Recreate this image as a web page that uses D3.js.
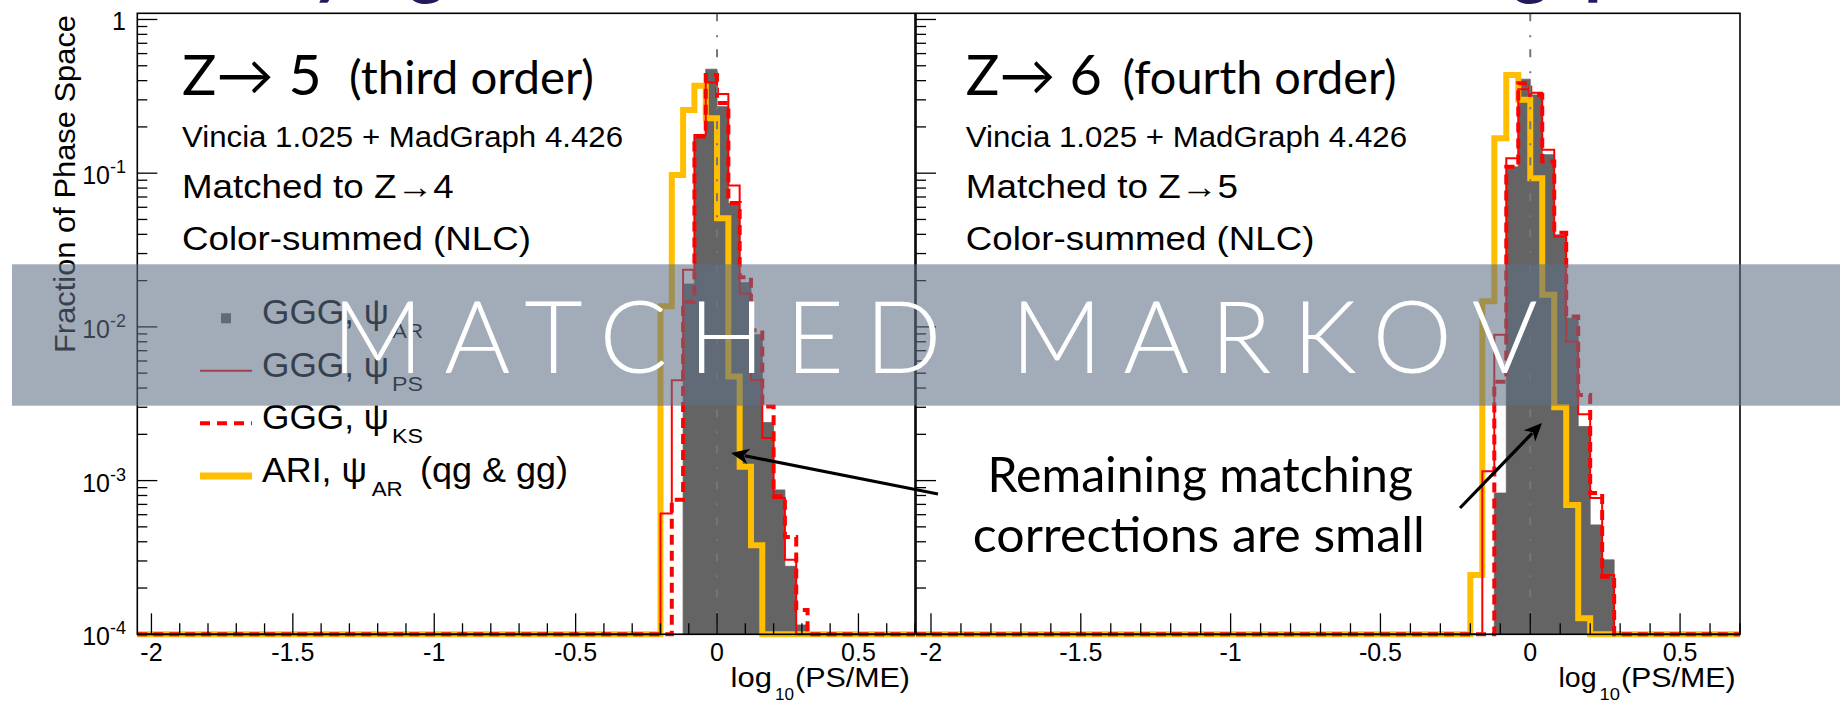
<!DOCTYPE html>
<html>
<head>
<meta charset="utf-8">
<script src="https://cdn.jsdelivr.net/npm/d3@7"></script>
<style>
  html, body { margin: 0; padding: 0; background: #fff; }
  svg { display: block; }
</style>
</head>
<body>
<svg id="chart" width="1840" height="705"></svg>
<script>
// ---- histogram binning: log10(PS/ME), bin width 0.04 ----
const binEdges = [-0.24, -0.20, -0.16, -0.12, -0.08, -0.04, 0.00, 0.04, 0.08, 0.12, 0.16, 0.20, 0.24, 0.28, 0.32, 0.36];

// Z -> 5 (third order): fraction of phase space per bin
const z5_GGG_AR = [0, 0, 0, 0.019, 0.173, 0.475, 0.271, 0.0638, 0.0194, 0.0089, 0.00239, 0.00087, 0.000277, 0.000115, 0];
const z5_GGG_PS = [0, 0.00061, 0.00449, 0.0235, 0.177, 0.389, 0.327, 0.083, 0.0165, 0.00452, 0.00189, 0.00077, 0.000305, 0, 0];
const z5_GGG_KS = [0, 0, 0.00075, 0.0146, 0.173, 0.436, 0.286, 0.064, 0.021, 0.0095, 0.00303, 0.00079, 0.00043, 0.000144, 0];
const z5_ARI_AR = [0, 0.0136, 0.0975, 0.258, 0.37, 0.228, 0.051, 0.00475, 0.00123, 0.00038, 0, 0, 0, 0, 0];

// Z -> 6 (fourth order)
const z6_GGG_AR = [0, 0, 0, 0.00083, 0.11, 0.409, 0.323, 0.132, 0.0397, 0.0114, 0.00225, 0.000515, 0.000305, 0, 0];
const z6_GGG_PS = [0, 0, 0.00115, 0.0089, 0.125, 0.352, 0.334, 0.142, 0.0387, 0.0080, 0.0027, 0.00077, 0.000243, 0, 0];
const z6_GGG_KS = [0, 0, 0, 0.0044, 0.11, 0.385, 0.323, 0.119, 0.041, 0.0117, 0.0036, 0.00083, 0.000237, 0, 0];
const z6_ARI_AR = [0, 0.000243, 0.0147, 0.169, 0.436, 0.30, 0.0927, 0.0162, 0.0030, 0.000695, 0.000127, 0, 0, 0, 0];

// axis ticks and labels
const xTickValues = [-2, -1.5, -1, -0.5, 0, 0.5];
const xTickLabels = ["-2", "-1.5", "-1", "-0.5", "0", "0.5"];
const yTickValues = [1e-4, 1e-3, 1e-2, 1e-1, 1];
const yTickBase = ["10", "10", "10", "10", "1"];
const yTickExp = ["-4", "-3", "-2", "-1", ""];

// legend entries
const legendNames = ["GGG, \u03C8", "GGG, \u03C8", "GGG, \u03C8", "ARI, \u03C8"];
const legendSubs = ["AR", "PS", "KS", "AR"];

// panel captions
const panelTitles = [["Z\u2192 5", "(third order)"], ["Z\u2192 6", "(fourth order)"]];
const panelInfo = [
  ["Vincia 1.025 + MadGraph 4.426", "Matched to Z\u21924", "Color-summed (NLC)"],
  ["Vincia 1.025 + MadGraph 4.426", "Matched to Z\u21925", "Color-summed (NLC)"]
];

// ---- layout & style ----
const ROOTFONT = "'Liberation Sans', Arial, Helvetica, sans-serif";
const SLIDEFONT = "Lato, 'Open Sans', 'DejaVu Sans', sans-serif";
const GRAY = "#646464", RED = "#ff0000", ORANGE = "#ffbf00";
const yTop = 13.3, yBottom = 634.3;
const xDomain = [-2.05, 0.7];

const svg = d3.select("#chart");
const y = d3.scaleLog().domain([1e-4, 1.097]).range([yBottom, yTop]);
const yv = v => (v > 1e-4 ? y(v) : y(1e-4));

function histPoints(vals) {
  const pts = [[xDomain[0], 0], [binEdges[0], 0]];
  vals.forEach((v, i) => { pts.push([binEdges[i], v]); pts.push([binEdges[i + 1], v]); });
  pts.push([binEdges[binEdges.length - 1], 0]);
  pts.push([xDomain[1], 0]);
  return pts;
}

const panels = [
  { left: 137.3, right: 915, series: [z5_GGG_AR, z5_GGG_PS, z5_GGG_KS, z5_ARI_AR], yLabels: true,
    textX: 182, titleW: [139.6, 245], titleX2: 349, infoW: [441, 271.6, 349],
    xTitle: { log: 730.6, sub: 775, par: 795, end: 910 } },
  { left: 916, right: 1740, series: [z6_GGG_AR, z6_GGG_PS, z6_GGG_KS, z6_ARI_AR], yLabels: false,
    textX: 965.8, titleW: [136.2, 274], titleX2: 1122.5, infoW: [441.2, 272.2, 348.6],
    xTitle: { log: 1558.5, sub: 1599.6, par: 1621, end: 1735.7 } }
];

panels.forEach((p, pi) => {
  const x = d3.scaleLinear().domain(xDomain).range([p.left, p.right]);
  const g = svg.append("g");

  g.append("rect").attr("x", p.left).attr("y", yTop)
    .attr("width", p.right - p.left).attr("height", yBottom - yTop).attr("fill", "#fff");

  const [ar, ps, ks, ari] = p.series;

  // filled histogram (GGG, psi_AR)
  const area = d3.area().x(d => x(d[0])).y0(yBottom).y1(d => yv(d[1]));
  const arPts = [];
  ar.forEach((v, i) => { arPts.push([binEdges[i], v]); arPts.push([binEdges[i + 1], v]); });
  g.append("path").attr("d", area(arPts)).attr("fill", GRAY).attr("stroke", GRAY).attr("stroke-width", 0.8);

  const line = d3.line().x(d => x(d[0])).y(d => yv(d[1]));
  g.append("path").attr("d", line(histPoints(ari))).attr("fill", "none")
    .attr("stroke", ORANGE).attr("stroke-width", 6).attr("stroke-linejoin", "miter");
  g.append("path").attr("d", line(histPoints(ps))).attr("fill", "none")
    .attr("stroke", RED).attr("stroke-width", 2);
  g.append("path").attr("d", line(histPoints(ks))).attr("fill", "none")
    .attr("stroke", RED).attr("stroke-width", 4).attr("stroke-dasharray", "10,6");

  // reference line at log10(PS/ME) = 0
  g.append("line").attr("x1", x(0)).attr("x2", x(0)).attr("y1", yTop).attr("y2", yBottom)
    .attr("stroke", "#767676").attr("stroke-width", 2).attr("stroke-dasharray", "8,14,2,12");

  // frame
  g.append("rect").attr("x", p.left).attr("y", yTop)
    .attr("width", p.right - p.left).attr("height", yBottom - yTop)
    .attr("fill", "none").attr("stroke", "#000").attr("stroke-width", 1.6);

  // x ticks
  const xMinor = d3.range(-20, 8).map(k => k / 10).filter(v => !xTickValues.some(t => Math.abs(t - v) < 1e-9));
  xTickValues.forEach(v => g.append("line").attr("x1", x(v)).attr("x2", x(v))
    .attr("y1", yBottom).attr("y2", yBottom - 21).attr("stroke", "#000").attr("stroke-width", 1.3));
  xMinor.forEach(v => g.append("line").attr("x1", x(v)).attr("x2", x(v))
    .attr("y1", yBottom).attr("y2", yBottom - 11).attr("stroke", "#000").attr("stroke-width", 1.3));
  xTickValues.forEach((v, i) => g.append("text").attr("x", x(v)).attr("y", 661)
    .attr("text-anchor", "middle").attr("font-family", ROOTFONT).attr("font-size", 25)
    .attr("fill", "#000").text(xTickLabels[i]));

  // y ticks (left edge of each frame)
  yTickValues.forEach(v => g.append("line").attr("x1", p.left).attr("x2", p.left + 20)
    .attr("y1", y(v)).attr("y2", y(v)).attr("stroke", "#000").attr("stroke-width", 1.3));
  [-4, -3, -2, -1].forEach(k => d3.range(2, 10).forEach(m => {
    const v = m * Math.pow(10, k);
    g.append("line").attr("x1", p.left).attr("x2", p.left + 10)
      .attr("y1", y(v)).attr("y2", y(v)).attr("stroke", "#000").attr("stroke-width", 1.3);
  }));
  if (p.yLabels) {
    yTickValues.forEach((v, i) => {
      const t = g.append("text").attr("x", 126).attr("y", y(v) + 11).attr("text-anchor", "end")
        .attr("font-family", ROOTFONT).attr("font-size", 25).attr("fill", "#000");
      t.append("tspan").text(yTickBase[i]);
      if (yTickExp[i]) t.append("tspan").attr("dy", -11).attr("font-size", 18).text(yTickExp[i]);
    });
  }

  // x axis title: log10(PS/ME)
  const xt = p.xTitle;
  g.append("text").attr("x", xt.log).attr("y", 686.7).attr("font-family", ROOTFONT)
    .attr("font-size", 28).attr("textLength", xt.sub - xt.log - 3).attr("lengthAdjust", "spacingAndGlyphs").text("log");
  g.append("text").attr("x", xt.sub).attr("y", 700).attr("font-family", ROOTFONT)
    .attr("font-size", 17).attr("textLength", xt.par - xt.sub - 1).attr("lengthAdjust", "spacingAndGlyphs").text("10");
  g.append("text").attr("x", xt.par).attr("y", 686.7).attr("font-family", ROOTFONT)
    .attr("font-size", 28).attr("textLength", xt.end - xt.par).attr("lengthAdjust", "spacingAndGlyphs").text("(PS/ME)");

  // captions
  g.append("text").attr("x", p.textX).attr("y", 95).attr("font-family", SLIDEFONT)
    .attr("font-size", 56).attr("textLength", p.titleW[0]).attr("lengthAdjust", "spacingAndGlyphs")
    .text(panelTitles[pi][0]);
  g.append("text").attr("x", p.titleX2).attr("y", 94).attr("font-family", SLIDEFONT)
    .attr("font-size", 46).attr("textLength", p.titleW[1]).attr("lengthAdjust", "spacingAndGlyphs")
    .text(panelTitles[pi][1]);
  const infoY = [146.7, 197.7, 250];
  const infoSize = [29, 33, 33];
  panelInfo[pi].forEach((s, i) => g.append("text").attr("x", p.textX).attr("y", infoY[i])
    .attr("font-family", ROOTFONT).attr("font-size", infoSize[i])
    .attr("textLength", p.infoW[i]).attr("lengthAdjust", "spacingAndGlyphs").text(s));
});

// y axis title
svg.append("text").attr("transform", "translate(75,15) rotate(-90)").attr("text-anchor", "end")
  .attr("font-family", ROOTFONT).attr("font-size", 29).attr("textLength", 338)
  .attr("lengthAdjust", "spacingAndGlyphs").text("Fraction of Phase Space");

// legend
const legRows = [318.3, 370.7, 423.3, 476];
const lg = svg.append("g");
lg.append("rect").attr("x", 221).attr("y", legRows[0] - 5).attr("width", 10).attr("height", 10).attr("fill", GRAY);
lg.append("line").attr("x1", 200).attr("x2", 252).attr("y1", legRows[1]).attr("y2", legRows[1])
  .attr("stroke", RED).attr("stroke-width", 2);
lg.append("line").attr("x1", 200).attr("x2", 252).attr("y1", legRows[2]).attr("y2", legRows[2])
  .attr("stroke", RED).attr("stroke-width", 4).attr("stroke-dasharray", "10,7");
lg.append("line").attr("x1", 200).attr("x2", 252).attr("y1", legRows[3]).attr("y2", legRows[3])
  .attr("stroke", ORANGE).attr("stroke-width", 7);
legendNames.forEach((name, i) => {
  const isARI = i === 3;
  lg.append("text").attr("x", 262).attr("y", legRows[i] + 6).attr("font-family", ROOTFONT)
    .attr("font-size", 35).attr("textLength", isARI ? 105 : 127).attr("lengthAdjust", "spacingAndGlyphs").text(name);
  lg.append("text").attr("x", isARI ? 371.7 : 392).attr("y", legRows[i] + 20).attr("font-family", ROOTFONT)
    .attr("font-size", 20).attr("textLength", 31).attr("lengthAdjust", "spacingAndGlyphs").text(legendSubs[i]);
});
lg.append("text").attr("x", 420).attr("y", legRows[3] + 6).attr("font-family", ROOTFONT)
  .attr("font-size", 35).attr("textLength", 148).attr("lengthAdjust", "spacingAndGlyphs").text("(qg & gg)");

// annotation
const ann = svg.append("g").attr("font-family", SLIDEFONT).attr("font-size", 49).attr("fill", "#000");
ann.append("text").attr("x", 987.5).attr("y", 491.7).attr("textLength", 425.5)
  .attr("lengthAdjust", "spacingAndGlyphs").text("Remaining matching");
ann.append("text").attr("x", 972.8).attr("y", 551.7).attr("textLength", 452)
  .attr("lengthAdjust", "spacingAndGlyphs").text("corrections are small");

function arrow(x1, y1, x2, y2) {
  const a = Math.atan2(y2 - y1, x2 - x1), L = 18, Wd = 8;
  const bx = x2 - L * Math.cos(a), by = y2 - L * Math.sin(a);
  svg.append("line").attr("x1", x1).attr("y1", y1).attr("x2", bx + 4 * Math.cos(a)).attr("y2", by + 4 * Math.sin(a))
    .attr("stroke", "#000").attr("stroke-width", 3.2);
  const pts = [[x2, y2],
    [bx + Wd * Math.sin(a), by - Wd * Math.cos(a)],
    [bx + 5 * Math.cos(a), by + 5 * Math.sin(a)],
    [bx - Wd * Math.sin(a), by + Wd * Math.cos(a)]];
  svg.append("polygon").attr("points", pts.map(q => q.join(",")).join(" ")).attr("fill", "#000");
}
arrow(938, 494, 731, 453);
arrow(1460, 508, 1542, 423);

// slide title (only its lower edge falls inside the page)
const title = svg.append("g").attr("font-family", SLIDEFONT).attr("font-weight", "bold")
  .attr("font-size", 72).attr("fill", "#221a5e");
title.append("text").attr("x", 446).attr("y", -10).attr("text-anchor", "end").text("Verifying");
title.append("text").attr("x", 1550).attr("y", -10).attr("text-anchor", "end").text("Matching");
title.append("text").attr("x", 1584).attr("y", -10).text("phase");

// banner across the plots
svg.append("rect").attr("x", 12).attr("y", 264.3).attr("width", 1828).attr("height", 141.4)
  .attr("fill", "rgb(95,112,134)").attr("fill-opacity", 0.58);
svg.append("text").attr("x", 331.7).attr("y", 373.3).attr("font-family", SLIDEFONT)
  .attr("font-weight", 300).attr("font-size", 101).attr("fill", "#fff")
  .attr("textLength", 1206).attr("lengthAdjust", "spacing").text("MATCHED MARKOV");
</script>
</body>
</html>
